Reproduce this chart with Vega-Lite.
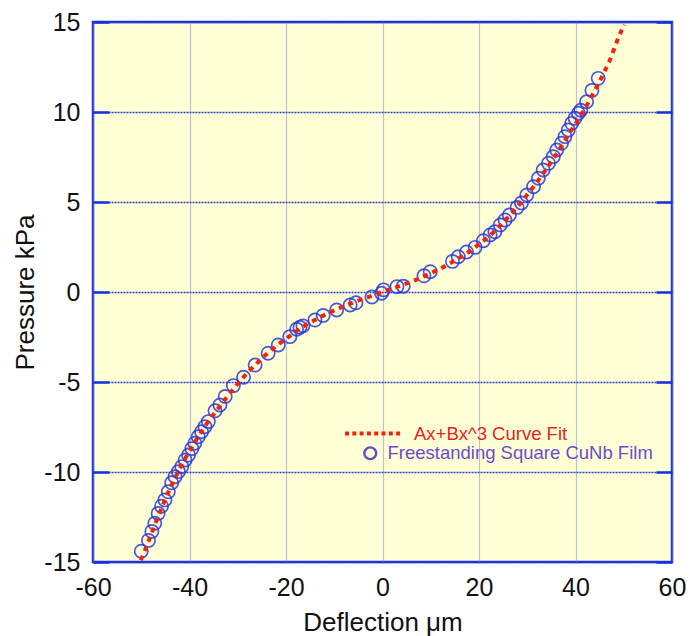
{
  "$schema": "https://vega.github.io/schema/vega-lite/v6.json",
  "width": 579,
  "height": 540,
  "autosize": {"type": "none"},
  "padding": {"left": 93, "top": 22, "right": 19, "bottom": 74},
  "background": "white",
  "config": {
    "font": "Liberation Sans",
    "view": {"stroke": "#1a30e0", "strokeWidth": 2.5, "fill": "#FFFFD6"}
  },
  "datasets": {
    "meas": [
      {"x": -50.0, "y": -14.4}, {"x": -48.5, "y": -13.8}, {"x": -47.8, "y": -13.3}, {"x": -47.2, "y": -12.85},
      {"x": -46.5, "y": -12.3}, {"x": -45.8, "y": -11.9}, {"x": -45.1, "y": -11.55}, {"x": -44.4, "y": -11.1},
      {"x": -43.7, "y": -10.6}, {"x": -43.0, "y": -10.26}, {"x": -42.3, "y": -9.98}, {"x": -41.6, "y": -9.7},
      {"x": -40.9, "y": -9.33}, {"x": -40.2, "y": -9.06}, {"x": -39.5, "y": -8.7}, {"x": -38.9, "y": -8.4},
      {"x": -38.2, "y": -8.04}, {"x": -37.5, "y": -7.76}, {"x": -36.8, "y": -7.48}, {"x": -36.1, "y": -7.2},
      {"x": -34.7, "y": -6.6}, {"x": -33.7, "y": -6.28}, {"x": -32.6, "y": -5.8}, {"x": -30.9, "y": -5.2},
      {"x": -28.8, "y": -4.74}, {"x": -26.4, "y": -4.06}, {"x": -23.7, "y": -3.4}, {"x": -21.6, "y": -2.94},
      {"x": -19.2, "y": -2.48}, {"x": -17.8, "y": -2.07}, {"x": -17.1, "y": -1.96}, {"x": -16.5, "y": -1.88},
      {"x": -14.0, "y": -1.56}, {"x": -12.3, "y": -1.3}, {"x": -9.5, "y": -1.0}, {"x": -6.7, "y": -0.72},
      {"x": -5.5, "y": -0.6}, {"x": -2.2, "y": -0.28}, {"x": -0.2, "y": -0.07}, {"x": 0.2, "y": 0.12},
      {"x": 3.0, "y": 0.3}, {"x": 4.3, "y": 0.32}, {"x": 8.6, "y": 0.9}, {"x": 9.9, "y": 1.13},
      {"x": 14.5, "y": 1.7}, {"x": 15.7, "y": 1.96}, {"x": 17.4, "y": 2.22}, {"x": 19.2, "y": 2.48},
      {"x": 20.9, "y": 2.85}, {"x": 22.3, "y": 3.17}, {"x": 23.3, "y": 3.35}, {"x": 24.4, "y": 3.72},
      {"x": 25.4, "y": 4.0}, {"x": 26.3, "y": 4.28}, {"x": 27.9, "y": 4.7}, {"x": 28.8, "y": 4.95},
      {"x": 29.9, "y": 5.39}, {"x": 31.3, "y": 5.85}, {"x": 32.3, "y": 6.32}, {"x": 33.3, "y": 6.78},
      {"x": 34.4, "y": 7.15}, {"x": 35.4, "y": 7.52}, {"x": 36.1, "y": 7.89}, {"x": 37.1, "y": 8.26},
      {"x": 37.8, "y": 8.63}, {"x": 38.5, "y": 9.0}, {"x": 39.2, "y": 9.37}, {"x": 39.9, "y": 9.65},
      {"x": 40.6, "y": 9.93}, {"x": 41.1, "y": 10.1}, {"x": 42.3, "y": 10.57}, {"x": 43.4, "y": 11.2},
      {"x": 44.7, "y": 11.87}
    ],
    "fit": [
      {"x": -50.1, "y": -14.9}, {"x": -49, "y": -14.2}, {"x": -48, "y": -13.5}, {"x": -47, "y": -12.8},
      {"x": -46, "y": -12.15}, {"x": -45, "y": -11.5}, {"x": -44, "y": -10.9}, {"x": -43, "y": -10.35},
      {"x": -42, "y": -9.8}, {"x": -41, "y": -9.3}, {"x": -40, "y": -8.85}, {"x": -39, "y": -8.4},
      {"x": -38, "y": -7.95}, {"x": -37, "y": -7.55}, {"x": -36, "y": -7.15}, {"x": -34, "y": -6.45},
      {"x": -32, "y": -5.75}, {"x": -30, "y": -5.1}, {"x": -28, "y": -4.5}, {"x": -26, "y": -3.95},
      {"x": -24, "y": -3.45}, {"x": -22, "y": -3.0}, {"x": -20, "y": -2.6}, {"x": -18, "y": -2.2},
      {"x": -16, "y": -1.85}, {"x": -14, "y": -1.55}, {"x": -12, "y": -1.27}, {"x": -10, "y": -1.02},
      {"x": -8, "y": -0.8}, {"x": -6, "y": -0.58}, {"x": -4, "y": -0.38}, {"x": -2, "y": -0.19},
      {"x": 0, "y": 0}, {"x": 2, "y": 0.19}, {"x": 4, "y": 0.38}, {"x": 6, "y": 0.58},
      {"x": 8, "y": 0.8}, {"x": 10, "y": 1.05}, {"x": 12, "y": 1.3}, {"x": 14, "y": 1.6},
      {"x": 16, "y": 1.9}, {"x": 18, "y": 2.25}, {"x": 20, "y": 2.65}, {"x": 22, "y": 3.08},
      {"x": 24, "y": 3.58}, {"x": 26, "y": 4.15}, {"x": 28, "y": 4.75}, {"x": 30, "y": 5.4},
      {"x": 32, "y": 6.1}, {"x": 34, "y": 6.85}, {"x": 36, "y": 7.65}, {"x": 38, "y": 8.5},
      {"x": 40, "y": 9.35}, {"x": 41, "y": 9.75}, {"x": 42, "y": 10.2}, {"x": 43, "y": 10.7},
      {"x": 44, "y": 11.2}, {"x": 45, "y": 11.7}, {"x": 46, "y": 12.25}, {"x": 47, "y": 12.8},
      {"x": 48, "y": 13.5}, {"x": 49, "y": 14.2}, {"x": 50.1, "y": 14.85}
    ]
  },
  "resolve": {"scale": {"y": "independent"}},
  "layer": [
    {
      "data": {"name": "meas"},
      "mark": {"type": "point", "filled": false, "color": "#2b3ad8", "strokeWidth": 1.7, "size": 175, "opacity": 0.85},
      "encoding": {
        "x": {"field": "x", "type": "quantitative",
          "scale": {"domain": [-60, 60], "nice": false, "zero": false},
          "axis": {"values": [-60, -40, -20, 0, 20, 40, 60], "title": "Deflection μm", "domain": false, "ticks": false,
            "labelExpr": "toString(datum.value)",
            "labelFontSize": 25, "labelPadding": 13, "labelColor": "#111", "labelFlush": false,
            "grid": true, "gridColor": "#7585e2", "gridDash": [1, 1], "gridWidth": 1.2,
            "titleFontSize": 26, "titleFontWeight": "normal", "titleColor": "#111", "titleY": 68, "titleBaseline": "alphabetic"}},
        "y": {"field": "y", "type": "quantitative",
          "scale": {"domain": [-15, 15], "nice": false, "zero": false},
          "axis": {"orient": "right", "values": [-15, -10, -5, 0, 5, 10, 15], "labels": false, "title": null, "grid": false,
            "domain": false, "tickSize": -16, "tickColor": "#1a30e0", "tickWidth": 2.5}},
        "shape": {"datum": "Freestanding Square CuNb Film", "type": "nominal",
          "scale": {"range": ["circle"]},
          "legend": {"title": null, "orient": "none", "legendX": 268, "legendY": 422, "padding": 0,
            "symbolSize": 140, "symbolStrokeWidth": 2.4, "symbolStrokeColor": "#3a30d0", "symbolFillColor": "transparent",
            "labelFontSize": 18.5, "labelColor": "#6a4cd0", "labelOffset": 8, "labelLimit": 400}}
      }
    },
    {
      "data": {"name": "fit"},
      "mark": {"type": "line", "strokeWidth": 4, "strokeDash": [5, 5], "interpolate": "monotone"},
      "encoding": {
        "x": {"field": "x", "type": "quantitative", "scale": {"domain": [-60, 60], "nice": false, "zero": false}},
        "y": {"field": "y", "type": "quantitative",
          "scale": {"domain": [-15, 15], "nice": false, "zero": false},
          "axis": {"orient": "left", "values": [-15, -10, -5, 0, 5, 10, 15], "title": "Pressure kPa", "domain": false,
            "labelExpr": "toString(datum.value)",
            "tickSize": -16, "tickColor": "#1a30e0", "tickWidth": 2.5, "labelPadding": 29,
            "labelFontSize": 25, "labelColor": "#111", "labelFlush": false,
            "grid": true, "gridColor": "#2a3ad0", "gridDash": [2, 1], "gridWidth": 1.3,
            "titleFontSize": 26, "titleFontWeight": "normal", "titleColor": "#111", "titleX": -60, "titleBaseline": "alphabetic"}},
        "color": {"datum": "Ax+Bx^3 Curve Fit", "type": "nominal",
          "scale": {"range": ["#f2220e"]},
          "legend": {"title": null, "orient": "none", "legendX": 250, "legendY": 381, "padding": 0,
            "symbolType": "stroke", "symbolSize": 3249, "symbolStrokeWidth": 4, "symbolDash": [4, 3.3],
            "labelFontSize": 18.5, "labelColor": "#e8231a", "labelOffset": 10, "labelLimit": 400}}
      }
    }
  ]
}
